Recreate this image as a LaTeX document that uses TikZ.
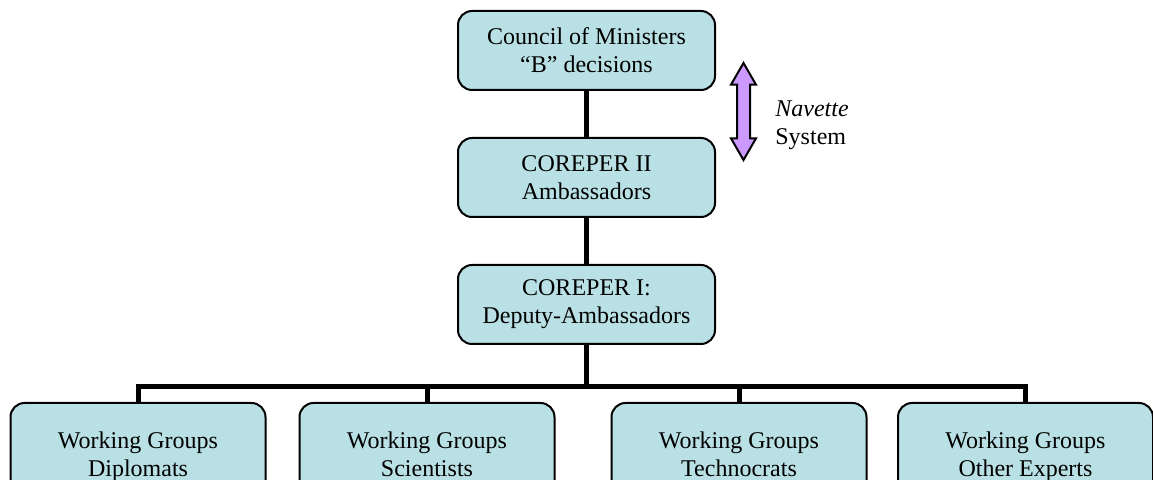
\documentclass[tikz,border=0pt]{standalone}
\usepackage{fontspec}
\setmainfont{Liberation Serif}
\usepackage{xcolor}
\usetikzlibrary{positioning, shapes.arrows}

\definecolor{boxfill}{RGB}{185,224,228}
\definecolor{navfill}{RGB}{204,153,255}

\begin{document}
\begin{tikzpicture} [x=0.5pt, y=-0.5pt, node distance = 63.5pt, on grid,
        unit/.style = {draw, fill=boxfill, line width=1pt, rounded corners=7pt,
            minimum width=128.5pt, minimum height=39.5pt, align=center,
            inner sep=0pt, font=\fontsize{12}{14}\selectfont},
        group/.style = {unit, minimum width=127.5pt, minimum height=55pt,
            execute at end node=\strut},
        link/.style = {line width=2.5pt, line join=miter}]

        \useasboundingbox (0,0) rectangle (1153,480);

        \node (cm) [unit] at (586.5,50.5) {Council of Ministers\\``B'' decisions};
        \node (c2) [unit, below = of cm] {COREPER II\\Ambassadors};
        \node (c1) [unit, below = of c2] {COREPER I:\\Deputy-Ambassadors};

        \node (wg1) [group] at (138,458) {Working Groups\\Diplomats};
        \node (wg2) [group] at (427,458) {Working Groups\\Scientists};
        \node (wg3) [group] at (739,458) {Working Groups\\Technocrats};
        \node (wg4) [group] at (1025.5,458) {Working Groups\\Other Experts};

        \coordinate (bus) at (586.5,387);

        % navette arrow and label
        \node (nav) [double arrow, draw, fill=navfill, line width=1pt,
            shape border rotate=90, minimum height=48.5pt, minimum width=11.5pt,
            double arrow head extend=3pt, double arrow tip angle=60,
            inner sep=2.75pt] at (743.5,111.5) {};
        \node (navtext) [anchor=west, align=left, inner sep=0pt,
            font=\fontsize{12}{14}\selectfont] at (775,125) {\textit{Navette}\\System};

        \draw [link] (cm) -- (c2) (c2) -- (c1) (c1) -- (bus);
        \draw [link] (wg1.north) |- (wg4.north |- bus) -- (wg4.north);
        \foreach \g in {wg2, wg3}
            \draw [link] (\g.north) -- (\g.north |- bus);

\end{tikzpicture}
\end{document}
